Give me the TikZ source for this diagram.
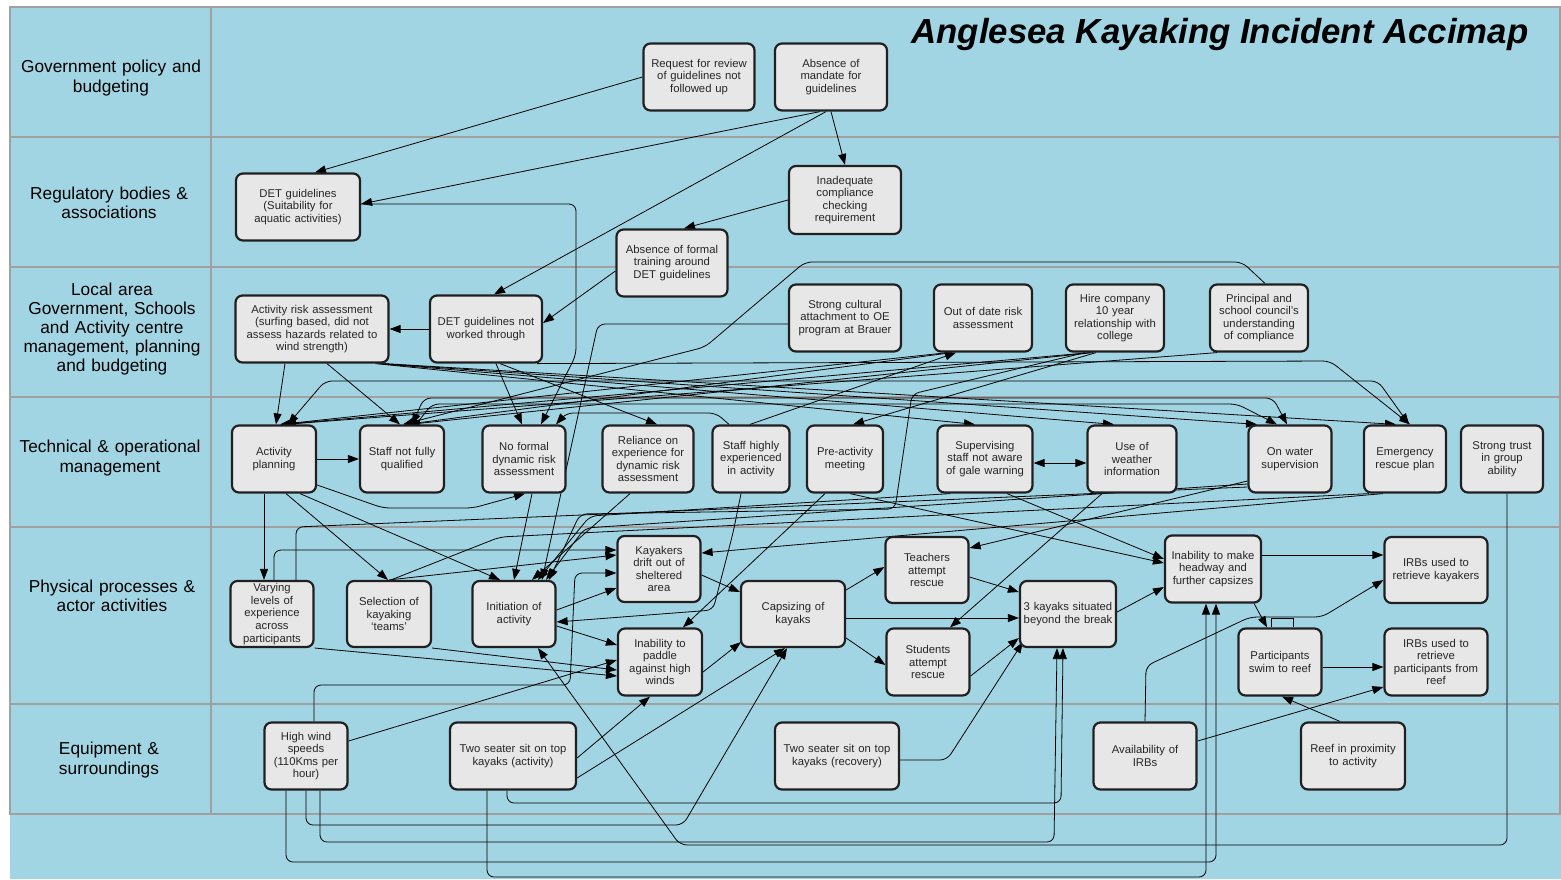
\documentclass[tikz,border=0pt]{standalone}
\usepackage{fontspec}
\setmainfont{Liberation Sans}
\usetikzlibrary{%
    arrows.meta,
    backgrounds
}

\definecolor{seablue}{RGB}{162,213,227}
\definecolor{gridgrey}{RGB}{160,160,160}
\definecolor{boxfill}{RGB}{231,231,231}
\definecolor{boxline}{RGB}{32,32,32}

\newcommand{\boxfont}{\fontsize{11.3}{12.6}\selectfont}
\newcommand{\tierfont}{\fontsize{17.3}{19.2}\selectfont}

\pgfdeclarelayer{sea}
\pgfsetlayers{sea,background,main}

\tikzset{
    factor/.style={draw=boxline, fill=boxfill, line width=2.2pt,
                   rounded corners=7pt, align=center, font=\boxfont,
                   text=black!85, inner xsep=2pt, inner ysep=1pt,
                   minimum height=67pt, text width=#1},
    tier/.style={align=center, font=\tierfont, text width=190pt},
    conn/.style={draw=black, line width=0.8pt, rounded corners=7pt},
    cause/.style={conn, -{Triangle[length=11pt,width=8pt]}},
    mutual/.style={conn, {Triangle[length=11pt,width=8pt]}-{Triangle[length=11pt,width=8pt]}}
}

\begin{document}
\begin{tikzpicture}[x=1pt, y=-1pt]
    \useasboundingbox (0,0) rectangle (1561,879);

    % the six levels of the accimap
    \begin{pgfonlayer}{sea}
        \fill[white] (0,0) rectangle (1561,879);
        \fill[seablue] (10,7) rectangle (1561,879);
        \draw[gridgrey, line width=2pt] (10,7) rectangle (1560,814);
        \draw[gridgrey, line width=2pt] (211,7) -- (211,814);
        \foreach \Y in {137,267,397,527,704}
            \draw[gridgrey, line width=2pt] (10,\Y) -- (1560,\Y);
    \end{pgfonlayer}

    \node[tier] (lblgov)   at (111,78)  {Government policy and\\budgeting};
    \node[tier] (lblreg)   at (109,203) {Regulatory bodies \&\\associations};
    \node[tier] (lbllocal) at (112,329) {Local area\\Government, Schools\\and Activity centre\\management, planning\\and budgeting};
    \node[tier] (lbltech)  at (110,458) {Technical \& operational\\management};
    \node[tier] (lblphys)  at (112,596) {Physical processes \&\\actor activities};
    \node[tier] (lblequip) at (109,760) {Equipment \&\\surroundings};

    \node[font=\fontsize{34.8}{40}\selectfont\bfseries\itshape] (title) at (1220,34)
        {Anglesea Kayaking Incident Accimap};

    % government and regulators
    \node[factor=107pt] (review)     at (699,77)  {Request for review\\of guidelines not\\followed up};
    \node[factor=108pt] (mandate)    at (831,77)  {Absence of\\mandate for\\guidelines};
    \node[factor=120pt] (detguide)   at (298,207) {DET guidelines\\(Suitability for\\aquatic activities)};
    \node[factor=108pt, minimum height=68pt] (compliance) at (845,200) {Inadequate\\compliance\\checking\\requirement};
    \node[factor=107pt] (training)   at (672,263) {Absence of formal\\training around\\DET guidelines};

    % local management
    \node[factor=149pt] (riskassess) at (312,329) {Activity risk assessment\\(surfing based, did not\\assess hazards related to\\wind strength)};
    \node[factor=108pt] (notworked)  at (486,329) {DET guidelines not\\worked through};
    \node[factor=108pt] (culture)    at (845,318) {Strong cultural\\attachment to OE\\program at Brauer};
    \node[factor=94pt]  (outofdate)  at (983,318) {Out of date risk\\assessment};
    \node[factor=94pt]  (hireco)     at (1115,318) {Hire company\\10 year\\relationship with\\college};
    \node[factor=94pt]  (principal)  at (1259,318) {Principal and\\school council's\\understanding\\of compliance};

    % technical and operational
    \node[factor=80pt] (planning)    at (274,459)  {Activity\\planning};
    \node[factor=80pt] (notqual)     at (402,459)  {Staff not fully\\qualified};
    \node[factor=79pt] (nodynamic)   at (524,459)  {No formal\\dynamic risk\\assessment};
    \node[factor=87pt] (reliance)    at (648,459)  {Reliance on\\experience for\\dynamic risk\\assessment};
    \node[factor=73pt] (experienced) at (751,459)  {Staff highly\\experienced\\in activity};
    \node[factor=72pt] (preactivity) at (845,459)  {Pre-activity\\meeting};
    \node[factor=91pt] (galewarn)    at (985,459)  {Supervising\\staff not aware\\of gale warning};
    \node[factor=85pt] (weather)     at (1132,459) {Use of\\weather\\information};
    \node[factor=79pt] (onwater)     at (1290,459) {On water\\supervision};
    \node[factor=78pt] (rescueplan)  at (1405,459) {Emergency\\rescue plan};
    \node[factor=78pt] (trust)       at (1502,459) {Strong trust\\in group\\ability};

    % physical processes
    \node[factor=79pt, minimum height=66pt] (varying)    at (272,614)  {Varying\\levels of\\experience\\across\\participants};
    \node[factor=80pt, minimum height=66pt] (teams)      at (389,614)  {Selection of\\kayaking\\`teams'};
    \node[factor=79pt, minimum height=66pt] (initiation) at (514,614)  {Initiation of\\activity};
    \node[factor=79pt, minimum height=66pt] (drift)      at (659,569)  {Kayakers\\drift out of\\sheltered\\area};
    \node[factor=80pt] (paddle)     at (660,662)  {Inability to\\paddle\\against high\\winds};
    \node[factor=100pt, minimum height=66pt] (capsize)   at (793,614)  {Capsizing of\\kayaks};
    \node[factor=79pt, minimum height=66pt] (teachers)   at (927,570)  {Teachers\\attempt\\rescue};
    \node[factor=79pt] (students)   at (928,662)  {Students\\attempt\\rescue};
    \node[factor=92pt, minimum height=66pt] (beyond)     at (1068,614) {3 kayaks situated\\beyond the break};
    \node[factor=92pt] (headway)    at (1213,569) {Inability to make\\headway and\\further capsizes};
    \node[factor=99pt, minimum height=66pt] (irbkayak)   at (1436,570) {IRBs used to\\retrieve kayakers};
    \node[factor=79pt] (swim)       at (1280,662) {Participants\\swim to reef};
    \node[factor=99pt] (irbreef)    at (1436,662) {IRBs used to\\retrieve\\participants from\\reef};

    % equipment and surroundings
    \node[factor=79pt]  (highwind)    at (306,756)  {High wind\\speeds\\(110Kms per\\hour)};
    \node[factor=122pt] (twoactivity) at (513,756)  {Two seater sit on top\\kayaks (activity)};
    \node[factor=120pt] (tworecovery) at (837,756)  {Two seater sit on top\\kayaks (recovery)};
    \node[factor=99pt]  (irbavail)    at (1145,756) {Availability of\\IRBs};
    \node[factor=100pt] (reef)        at (1353,756) {Reef in proximity\\to activity};

    \begin{pgfonlayer}{background}
        \foreach \Source/\Target in {%
            notworked.west/riskassess.east,
            planning.east/notqual.west,
            mandate.south/compliance.north%
            }
            \draw[cause] (\Source) -- (\Target);

        % top levels
        \draw[cause] (review.west) -- ([xshift=17pt]detguide.north);
        \draw[cause] ([xshift=-11pt]mandate.south) -- ([yshift=3pt]detguide.east);
        \draw[cause] ([xshift=-5pt]mandate.south) -- ([xshift=8pt]notworked.north);
        \draw[cause] (compliance.west) -- ([xshift=12pt]training.north);
        \draw[cause] ([yshift=-8pt]training.west) -- ([yshift=6pt]notworked.east);
        \draw[cause] ([yshift=3pt]detguide.east) -- (576,204) -- (576,355) -- ([xshift=17pt]nodynamic.north);

        % local management to operations
        \draw[cause] ([xshift=10pt]notworked.south) -- ([xshift=-2pt]nodynamic.north);
        \draw[cause] ([xshift=14pt]notworked.south) -- ([xshift=9pt]reliance.north);
        \draw[cause] ([xshift=-27pt]riskassess.south) -- ([xshift=2pt]planning.north);
        \draw[cause] ([xshift=15pt]riskassess.south) -- ([xshift=-2pt]notqual.north);
        \draw[cause] ([xshift=-14pt]riskassess.south east) -- ([xshift=-10pt]galewarn.north);
        \draw[cause] ([xshift=-11pt]riskassess.south east) -- ([xshift=-18pt]weather.north);
        \draw[cause] ([xshift=-8pt]riskassess.south east) -- ([xshift=-33pt]onwater.north);
        \draw[cause] ([xshift=-5pt]riskassess.south east) -- ([xshift=-9pt]rescueplan.north);
        \draw[cause] ([xshift=-6pt]notworked.south east) -- (1330,361) -- ([xshift=5pt]rescueplan.north);
        \draw[mutual] ([xshift=14pt]planning.north) -- (325,381) -- (1378,381) -- ([xshift=4pt]rescueplan.north);
        \draw[cause] ([xshift=-35pt]outofdate.south) -- ([xshift=6pt]planning.north);
        \draw[cause] ([xshift=-31pt]outofdate.south) -- ([xshift=4pt]notqual.north);
        \draw[cause] ([xshift=-25pt]hireco.south) -- ([xshift=9pt]planning.north);
        \draw[cause] ([xshift=-22pt]hireco.south) -- ([xshift=7pt]notqual.north);
        \draw[cause] ([xshift=-19pt]hireco.south) -- ([xshift=8pt]preactivity.north);
        \draw[cause] ([xshift=-42pt]principal.south) -- ([xshift=11pt]planning.north);
        \draw[cause] ([xshift=6pt]principal.north) -- (1242,262) -- (805,262) -- (705,347) -- ([xshift=1pt]notqual.north);
        \draw[cause] ([yshift=-6pt]culture.west) -- (598,324) -- ([xshift=28pt]initiation.north);
        \draw[cause] ([xshift=-1pt]experienced.north) -- ([xshift=-27pt]outofdate.south);
        \draw[cause] ([xshift=-22pt]experienced.north) -- (716,413) -- (566,413) -- ([xshift=32pt]nodynamic.north);
        \draw[mutual] ([xshift=10pt]notqual.north) -- (424,398) -- (1273,398) -- ([xshift=-3pt]onwater.north);
        \draw[cause] ([xshift=14pt]notqual.north) -- (432,404) -- (1237,404) -- ([xshift=-13pt]onwater.north);
        \draw[mutual] ([yshift=-4pt]galewarn.east) -- ([yshift=-4pt]weather.west);

        % operations to physical processes
        \draw[cause] ([xshift=-10pt]planning.south) -- ([xshift=-8pt]varying.north);
        \draw[cause] ([xshift=12pt]planning.south) -- ([xshift=-1pt]teams.north);
        \draw[cause] ([xshift=26pt]planning.south) -- ([xshift=-14pt]initiation.north);
        \draw[cause] ([yshift=-26pt]planning.east) -- (383,508) -- (473,508) -- ([xshift=1pt]nodynamic.south);
        \draw[cause] ([xshift=8pt]nodynamic.south) -- (initiation.north);
        \draw[cause] ([xshift=-18pt]reliance.south) -- ([xshift=18pt]initiation.north);
        \draw[cause] ([xshift=-20pt]preactivity.south) -- ([xshift=23pt]paddle.north);
        \draw[cause] ([xshift=5pt]preactivity.south) -- ([yshift=6pt]headway.west);
        \draw[cause] ([xshift=22pt]galewarn.south) -- ([yshift=10pt]headway.west);
        \draw[cause] ([xshift=-35pt]galewarn.south) -- (590,516) -- ([xshift=24pt]initiation.north);
        \draw[cause] ([xshift=-30pt]weather.south) -- ([xshift=22pt]students.north);
        \draw[cause] ([yshift=-22pt]onwater.west) -- ([yshift=22pt]teachers.east);
        \draw[cause] ([yshift=-25pt]onwater.west) -- (585,528) -- ([xshift=32pt]initiation.north);
        \draw[cause] ([xshift=20pt]rescueplan.south west) -- ([yshift=16pt]drift.east);
        \draw[cause] ([xshift=5pt]trust.south) -- (1507,845) -- (680,845) -- ([xshift=24pt]initiation.south);
        \draw[cause] ([xshift=-30pt]hireco.south) -- (912,394) -- (895,509) -- (580,514) -- ([xshift=35pt]initiation.north);
        \draw[cause] ([xshift=-10pt]experienced.south) -- (733,533) -- (713,610) -- ([yshift=-8pt]initiation.east);

        % physical processes
        \draw[cause] ([xshift=2pt]varying.north) -- (274,550) -- ([yshift=19pt]drift.west);
        \draw[conn] ([xshift=24pt]varying.north) -- (296,527) -- ([yshift=-28pt]onwater.west);
        \draw[cause] ([yshift=-34pt]varying.east) -- ([yshift=-14pt]paddle.west);
        \draw[cause] (teams.north) -- ([yshift=14pt]drift.west);
        \draw[conn] ([xshift=2pt]teams.north) -- (500,537) -- ([xshift=6pt]rescueplan.south west);
        \draw[cause] ([yshift=-34pt]teams.east) -- ([yshift=-8pt]paddle.west);
        \draw[cause] ([yshift=4pt]initiation.east) -- ([yshift=-19pt]drift.west);
        \draw[cause] ([yshift=-12pt]initiation.east) -- ([yshift=17pt]paddle.west);
        \draw[cause] ([yshift=-6pt]drift.east) -- ([yshift=22pt]capsize.west);
        \draw[cause] ([yshift=-10pt]paddle.east) -- ([xshift=1pt,yshift=6pt]capsize.south west);
        \draw[cause] ([yshift=24pt]capsize.east) -- ([yshift=3pt]teachers.west);
        \draw[cause] ([yshift=-24pt]capsize.east) -- ([yshift=-3pt]students.west);
        \draw[cause] ([yshift=-4pt]capsize.east) -- ([yshift=-4pt]beyond.west);
        \draw[cause] ([yshift=-7pt]teachers.east) -- ([yshift=22pt]beyond.west);
        \draw[cause] ([yshift=-14pt]students.east) -- ([yshift=-24pt]beyond.west);
        \draw[cause] ([yshift=2pt]beyond.east) -- ([yshift=-18pt]headway.west);
        \draw[cause] ([yshift=14pt]headway.east) -- ([yshift=15pt]irbkayak.west);
        \draw[cause] ([xshift=-8pt]headway.south east) -- ([xshift=-13pt]swim.north);
        \draw[conn, rounded corners=0pt] ([xshift=-9pt]swim.north) -- ++(0,-9) -- ++(22,0) -- ++(0,9);
        \draw[cause] ([yshift=-5pt]swim.east) -- ([yshift=-5pt]irbreef.west);

        % equipment and surroundings
        \draw[cause] ([xshift=-13pt]reef.north) -- ([xshift=2pt]swim.south);
        \draw[cause] (irbavail.north) -- (1146,666) -- (1250,617) -- (1322,617) -- ([yshift=-10pt]irbkayak.west);
        \draw[cause] ([yshift=15pt]irbavail.east) -- ([yshift=-25pt]irbreef.west);
        \draw[cause] ([yshift=15pt]highwind.east) -- ([yshift=2pt]paddle.west);
        \draw[cause] ([xshift=8pt]highwind.north) -- (314,685) -- (570,685) -- (575,573) -- ([yshift=-4pt]drift.west);
        \draw[cause] ([xshift=-20pt]highwind.south) -- (286,862) -- (1216,862) -- ([xshift=3pt]headway.south);
        \draw[cause] (highwind.south) -- (306,825) -- (683,825) -- ([xshift=-6pt]capsize.south);
        \draw[cause] ([xshift=14pt]highwind.south) -- (320,842) -- (1054,842) -- ([xshift=-11pt]beyond.south);
        \draw[cause] ([xshift=-6pt]twoactivity.south) -- (507,803) -- (1061,803) -- ([xshift=-5pt]beyond.south);
        \draw[cause] ([xshift=-26pt]twoactivity.south) -- (487,877) -- (1206,877) -- ([xshift=-7pt]headway.south);
        \draw[cause] ([yshift=-2pt]twoactivity.east) -- ([xshift=-10pt]paddle.south);
        \draw[cause] ([yshift=-22pt]twoactivity.east) -- ([xshift=-8pt]capsize.south);
        \draw[cause] ([yshift=-4pt]tworecovery.east) -- (947,760) -- ([xshift=4pt,yshift=6pt]beyond.south west);
    \end{pgfonlayer}
\end{tikzpicture}
\end{document}
